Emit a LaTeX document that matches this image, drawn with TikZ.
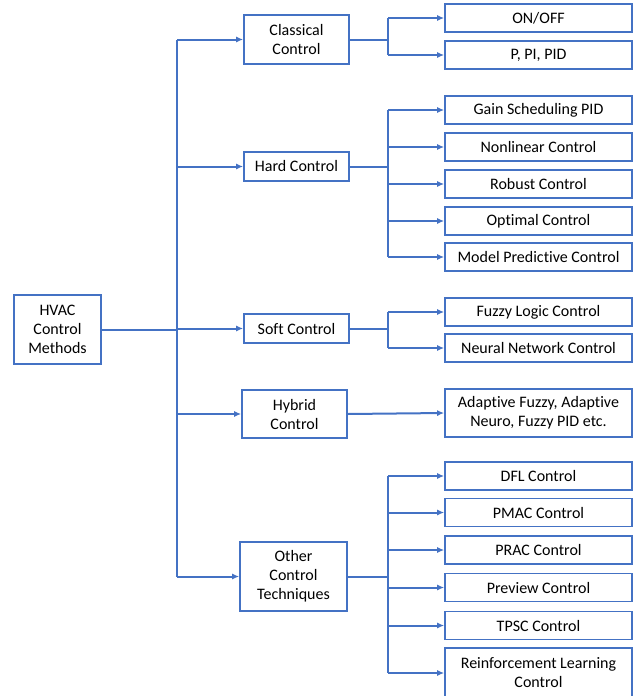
\documentclass[tikz,border=0pt]{standalone}
\usepackage{fontspec}
\setmainfont{Carlito}[Ligatures=NoCommon]
\usetikzlibrary{arrows.meta}
\definecolor{hvacblue}{HTML}{4472C4}

\begin{document}
\begin{tikzpicture}[x=1pt,y=-1pt,
    every node/.style={font=\fontsize{16}{19}\selectfont, align=center, inner sep=0pt},
    method/.style={draw=hvacblue, line width=1.6pt, minimum width=105pt},
    leaf/.style={draw=hvacblue, line width=1.6pt, minimum width=187pt, minimum height=28pt},
    link/.style={draw=hvacblue, line width=2pt},
    arrowlink/.style={link, -{Latex[length=7pt,width=6pt]}}]
    \useasboundingbox (0,0) rectangle (644,696);
    % root and first level
    \node[method, minimum width=87pt, minimum height=69pt] (hvac) at (57.5,329.5) {HVAC\\Control\\Methods};
    \node[method, minimum height=49pt] (classical) at (296.5,39.5) {Classical\\Control};
    \node[method, minimum height=29pt] (hard) at (296.5,166.5) {Hard Control};
    \node[method, minimum height=29pt] (soft) at (296.5,328.5) {Soft Control};
    \node[method, minimum height=48pt] (hybrid) at (294.5,414) {Hybrid\\Control};
    \node[method, minimum width=107pt, minimum height=69pt] (other) at (293.5,576.5) {Other\\Control\\Techniques};
    % second level
    \node[leaf] (onoff) at (538.5,18) {ON/OFF};
    \node[leaf] (ppid) at (538.5,55) {P, PI, PID};
    \node[leaf] (gain) at (538.5,110) {Gain Scheduling PID};
    \node[leaf] (nonlin) at (538.5,147) {Nonlinear Control};
    \node[leaf] (robust) at (538.5,184) {Robust Control};
    \node[leaf] (optimal) at (538.5,221) {Optimal Control};
    \node[leaf] (mpc) at (538.5,257) {Model Predictive Control};
    \node[leaf] (fuzzy) at (538.5,312) {Fuzzy Logic Control};
    \node[leaf] (neural) at (538.5,348) {Neural Network Control};
    \node[leaf, minimum height=48pt] (adaptive) at (538.5,413) {Adaptive Fuzzy, Adaptive\\Neuro, Fuzzy PID etc.};
    \node[leaf] (dfl) at (538.5,476) {DFL Control};
    \node[leaf] (pmac) at (538.5,512.5) {PMAC Control};
    \node[leaf] (prac) at (538.5,550) {PRAC Control};
    \node[leaf] (preview) at (538.5,587.5) {Preview Control};
    \node[leaf] (tpsc) at (538.5,625.5) {TPSC Control};
    \node[leaf, minimum height=50pt] (rl) at (538.5,673) {Reinforcement Learning\\Control};
    % trunk and branch points
    \coordinate (trunk) at (177,0);
    \coordinate (split) at (388,0);
    \draw[link] (hvac.east) -- (trunk|-hvac.east);
    \draw[link] (trunk|-classical.west) -- (trunk|-other.west);
    \foreach \m in {classical,hard,soft,hybrid,other}
      \draw[arrowlink] (trunk|-\m.west) -- (\m.west);
    % classical
    \draw[link] (classical.east) -- (split|-classical.east);
    \draw[link] (split|-onoff.west) -- (split|-ppid.west);
    % hard
    \draw[link] (hard.east) -- (split|-hard.east);
    \draw[link] (split|-gain.west) -- (split|-mpc.west);
    % soft
    \draw[link] (soft.east) -- (split|-soft.east);
    \draw[link] (split|-fuzzy.west) -- (split|-neural.west);
    % hybrid
    \draw[arrowlink] (hybrid.east) -- (adaptive.west);
    % other
    \draw[link] (other.east) -- (split|-other.east);
    \draw[link] (split|-dfl.west) -- (split|-rl.west);
    \foreach \l in {onoff,ppid,gain,nonlin,robust,optimal,mpc,fuzzy,neural,dfl,pmac,prac,preview,tpsc,rl}
      \draw[arrowlink] (split|-\l.west) -- (\l.west);
  \end{tikzpicture}
\end{document}
